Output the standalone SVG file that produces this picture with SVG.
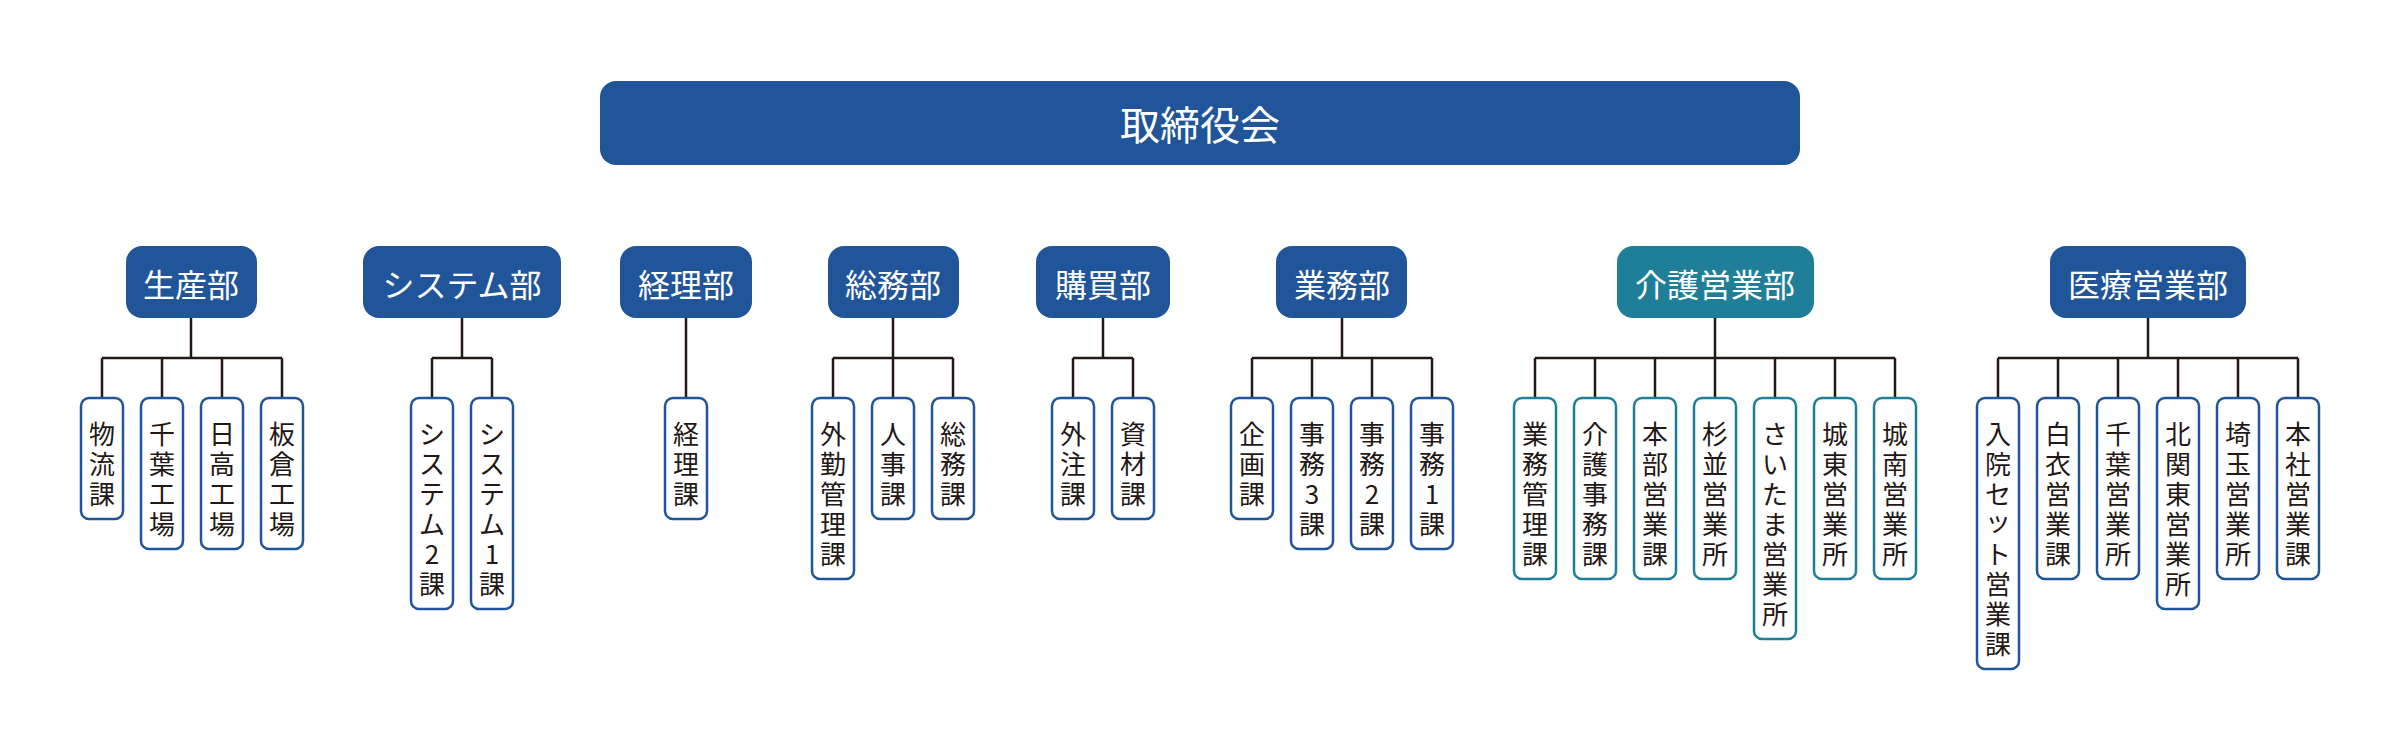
<svg xmlns="http://www.w3.org/2000/svg" width="2400" height="750" viewBox="0 0 2400 750">
<style>
  .top{fill:#215599}
  .dept{fill:#215599}
  .dept.teal{fill:#1f7f99}
  .tt{font-family:"Noto Sans CJK JP","Noto Sans",sans-serif;fill:#fff;text-anchor:middle;dominant-baseline:central}
  .sub rect{fill:#fff;stroke:#215599;stroke-width:2.5}
  .sub.teal rect{stroke:#1f7f99}
  .st{font-family:"Noto Sans CJK JP","Noto Sans",sans-serif;font-size:26px;fill:#231815;text-anchor:middle;dominant-baseline:central}
  .conn path{fill:none;stroke:#231815;stroke-width:2.5}
</style>
<rect width="2400" height="750" fill="#fff"/>

<g id="top-board">
  <rect class="top" x="600" y="81" width="1200" height="84" rx="16"/>
  <text class="tt" x="1200" y="123" font-size="40">取締役会</text>
</g>

<g id="connectors" class="conn">
  <path d="M191 318V358M102 358H282M102 358V398M162 358V398M222 358V398M282 358V398"/>
  <path d="M462 318V358M432 358H492M432 358V398M492 358V398"/>
  <path d="M686 318V398"/>
  <path d="M893 318V358M833 358H953M833 358V398M893 358V398M953 358V398"/>
  <path d="M1103 318V358M1073 358H1133M1073 358V398M1133 358V398"/>
  <path d="M1342 318V358M1252 358H1432M1252 358V398M1312 358V398M1372 358V398M1432 358V398"/>
  <path d="M1715 318V358M1535 358H1895M1535 358V398M1595 358V398M1655 358V398M1715 358V398M1775 358V398M1835 358V398M1895 358V398"/>
  <path d="M2148 318V358M1998 358H2298M1998 358V398M2058 358V398M2118 358V398M2178 358V398M2238 358V398M2298 358V398"/>
</g>

<!-- Departments -->
<g id="d-seisan"><rect class="dept" x="126" y="246" width="131" height="72" rx="16"/><text class="tt" x="191" y="283" font-size="32">生産部</text></g>
<g id="d-system"><rect class="dept" x="363" y="246" width="198" height="72" rx="16"/><text class="tt" x="462" y="283" font-size="32">システム部</text></g>
<g id="d-keiri"><rect class="dept" x="620" y="246" width="132" height="72" rx="16"/><text class="tt" x="686" y="283" font-size="32">経理部</text></g>
<g id="d-somu"><rect class="dept" x="828" y="246" width="131" height="72" rx="16"/><text class="tt" x="893" y="283" font-size="32">総務部</text></g>
<g id="d-kobai"><rect class="dept" x="1036" y="246" width="134" height="72" rx="16"/><text class="tt" x="1103" y="283" font-size="32">購買部</text></g>
<g id="d-gyomu"><rect class="dept" x="1276" y="246" width="131" height="72" rx="16"/><text class="tt" x="1342" y="283" font-size="32">業務部</text></g>
<g id="d-kaigo"><rect class="dept teal" x="1617" y="246" width="197" height="72" rx="16"/><text class="tt" x="1715" y="283" font-size="32">介護営業部</text></g>
<g id="d-iryo"><rect class="dept" x="2050" y="246" width="196" height="72" rx="16"/><text class="tt" x="2148" y="283" font-size="32">医療営業部</text></g>

<!-- Sections:生産部 -->
<g id="s-butsuryu" class="sub"><rect x="81" y="398" width="42" height="121" rx="8"/><text class="st" x="102" y="432"><tspan x="102" y="432">物</tspan><tspan x="102" y="462">流</tspan><tspan x="102" y="492">課</tspan></text></g>
<g id="s-chiba-kojo" class="sub"><rect x="141" y="398" width="42" height="151" rx="8"/><text class="st"><tspan x="162" y="432">千</tspan><tspan x="162" y="462">葉</tspan><tspan x="162" y="492">工</tspan><tspan x="162" y="522">場</tspan></text></g>
<g id="s-hidaka" class="sub"><rect x="201" y="398" width="42" height="151" rx="8"/><text class="st"><tspan x="222" y="432">日</tspan><tspan x="222" y="462">高</tspan><tspan x="222" y="492">工</tspan><tspan x="222" y="522">場</tspan></text></g>
<g id="s-itakura" class="sub"><rect x="261" y="398" width="42" height="151" rx="8"/><text class="st"><tspan x="282" y="432">板</tspan><tspan x="282" y="462">倉</tspan><tspan x="282" y="492">工</tspan><tspan x="282" y="522">場</tspan></text></g>

<!-- システム部 -->
<g id="s-sys2" class="sub"><rect x="411" y="398" width="42" height="211" rx="8"/><text class="st"><tspan x="432" y="432">シ</tspan><tspan x="432" y="462">ス</tspan><tspan x="432" y="492">テ</tspan><tspan x="432" y="522">ム</tspan><tspan x="432" y="552">2</tspan><tspan x="432" y="582">課</tspan></text></g>
<g id="s-sys1" class="sub"><rect x="471" y="398" width="42" height="211" rx="8"/><text class="st"><tspan x="492" y="432">シ</tspan><tspan x="492" y="462">ス</tspan><tspan x="492" y="492">テ</tspan><tspan x="492" y="522">ム</tspan><tspan x="492" y="552">1</tspan><tspan x="492" y="582">課</tspan></text></g>

<!-- 経理部 -->
<g id="s-keiri" class="sub"><rect x="665" y="398" width="42" height="121" rx="8"/><text class="st"><tspan x="686" y="432">経</tspan><tspan x="686" y="462">理</tspan><tspan x="686" y="492">課</tspan></text></g>

<!-- 総務部 -->
<g id="s-gaikin" class="sub"><rect x="812" y="398" width="42" height="181" rx="8"/><text class="st"><tspan x="833" y="432">外</tspan><tspan x="833" y="462">勤</tspan><tspan x="833" y="492">管</tspan><tspan x="833" y="522">理</tspan><tspan x="833" y="552">課</tspan></text></g>
<g id="s-jinji" class="sub"><rect x="872" y="398" width="42" height="121" rx="8"/><text class="st"><tspan x="893" y="432">人</tspan><tspan x="893" y="462">事</tspan><tspan x="893" y="492">課</tspan></text></g>
<g id="s-somu" class="sub"><rect x="932" y="398" width="42" height="121" rx="8"/><text class="st"><tspan x="953" y="432">総</tspan><tspan x="953" y="462">務</tspan><tspan x="953" y="492">課</tspan></text></g>

<!-- 購買部 -->
<g id="s-gaichu" class="sub"><rect x="1052" y="398" width="42" height="121" rx="8"/><text class="st"><tspan x="1073" y="432">外</tspan><tspan x="1073" y="462">注</tspan><tspan x="1073" y="492">課</tspan></text></g>
<g id="s-shizai" class="sub"><rect x="1112" y="398" width="42" height="121" rx="8"/><text class="st"><tspan x="1133" y="432">資</tspan><tspan x="1133" y="462">材</tspan><tspan x="1133" y="492">課</tspan></text></g>

<!-- 業務部 -->
<g id="s-kikaku" class="sub"><rect x="1231" y="398" width="42" height="121" rx="8"/><text class="st"><tspan x="1252" y="432">企</tspan><tspan x="1252" y="462">画</tspan><tspan x="1252" y="492">課</tspan></text></g>
<g id="s-jimu3" class="sub"><rect x="1291" y="398" width="42" height="151" rx="8"/><text class="st"><tspan x="1312" y="432">事</tspan><tspan x="1312" y="462">務</tspan><tspan x="1312" y="492">3</tspan><tspan x="1312" y="522">課</tspan></text></g>
<g id="s-jimu2" class="sub"><rect x="1351" y="398" width="42" height="151" rx="8"/><text class="st"><tspan x="1372" y="432">事</tspan><tspan x="1372" y="462">務</tspan><tspan x="1372" y="492">2</tspan><tspan x="1372" y="522">課</tspan></text></g>
<g id="s-jimu1" class="sub"><rect x="1411" y="398" width="42" height="151" rx="8"/><text class="st"><tspan x="1432" y="432">事</tspan><tspan x="1432" y="462">務</tspan><tspan x="1432" y="492">1</tspan><tspan x="1432" y="522">課</tspan></text></g>

<!-- 介護営業部 -->
<g id="s-gyomukanri" class="sub teal"><rect x="1514" y="398" width="42" height="181" rx="8"/><text class="st"><tspan x="1535" y="432">業</tspan><tspan x="1535" y="462">務</tspan><tspan x="1535" y="492">管</tspan><tspan x="1535" y="522">理</tspan><tspan x="1535" y="552">課</tspan></text></g>
<g id="s-kaigojimu" class="sub teal"><rect x="1574" y="398" width="42" height="181" rx="8"/><text class="st"><tspan x="1595" y="432">介</tspan><tspan x="1595" y="462">護</tspan><tspan x="1595" y="492">事</tspan><tspan x="1595" y="522">務</tspan><tspan x="1595" y="552">課</tspan></text></g>
<g id="s-honbu" class="sub teal"><rect x="1634" y="398" width="42" height="181" rx="8"/><text class="st"><tspan x="1655" y="432">本</tspan><tspan x="1655" y="462">部</tspan><tspan x="1655" y="492">営</tspan><tspan x="1655" y="522">業</tspan><tspan x="1655" y="552">課</tspan></text></g>
<g id="s-suginami" class="sub teal"><rect x="1694" y="398" width="42" height="181" rx="8"/><text class="st"><tspan x="1715" y="432">杉</tspan><tspan x="1715" y="462">並</tspan><tspan x="1715" y="492">営</tspan><tspan x="1715" y="522">業</tspan><tspan x="1715" y="552">所</tspan></text></g>
<g id="s-saitama" class="sub teal"><rect x="1754" y="398" width="42" height="241" rx="8"/><text class="st"><tspan x="1775" y="432">さ</tspan><tspan x="1775" y="462">い</tspan><tspan x="1775" y="492">た</tspan><tspan x="1775" y="522">ま</tspan><tspan x="1775" y="552">営</tspan><tspan x="1775" y="582">業</tspan><tspan x="1775" y="612">所</tspan></text></g>
<g id="s-joto" class="sub teal"><rect x="1814" y="398" width="42" height="181" rx="8"/><text class="st"><tspan x="1835" y="432">城</tspan><tspan x="1835" y="462">東</tspan><tspan x="1835" y="492">営</tspan><tspan x="1835" y="522">業</tspan><tspan x="1835" y="552">所</tspan></text></g>
<g id="s-jonan" class="sub teal"><rect x="1874" y="398" width="42" height="181" rx="8"/><text class="st"><tspan x="1895" y="432">城</tspan><tspan x="1895" y="462">南</tspan><tspan x="1895" y="492">営</tspan><tspan x="1895" y="522">業</tspan><tspan x="1895" y="552">所</tspan></text></g>

<!-- 医療営業部 -->
<g id="s-nyuin" class="sub"><rect x="1977" y="398" width="42" height="271" rx="8"/><text class="st"><tspan x="1998" y="432">入</tspan><tspan x="1998" y="462">院</tspan><tspan x="1998" y="492">セ</tspan><tspan x="1998" y="519">ッ</tspan><tspan x="1998" y="552">ト</tspan><tspan x="1998" y="582">営</tspan><tspan x="1998" y="612">業</tspan><tspan x="1998" y="642">課</tspan></text></g>
<g id="s-hakui" class="sub"><rect x="2037" y="398" width="42" height="181" rx="8"/><text class="st"><tspan x="2058" y="432">白</tspan><tspan x="2058" y="462">衣</tspan><tspan x="2058" y="492">営</tspan><tspan x="2058" y="522">業</tspan><tspan x="2058" y="552">課</tspan></text></g>
<g id="s-chiba-eigyo" class="sub"><rect x="2097" y="398" width="42" height="181" rx="8"/><text class="st"><tspan x="2118" y="432">千</tspan><tspan x="2118" y="462">葉</tspan><tspan x="2118" y="492">営</tspan><tspan x="2118" y="522">業</tspan><tspan x="2118" y="552">所</tspan></text></g>
<g id="s-kitakanto" class="sub"><rect x="2157" y="398" width="42" height="211" rx="8"/><text class="st"><tspan x="2178" y="432">北</tspan><tspan x="2178" y="462">関</tspan><tspan x="2178" y="492">東</tspan><tspan x="2178" y="522">営</tspan><tspan x="2178" y="552">業</tspan><tspan x="2178" y="582">所</tspan></text></g>
<g id="s-saitama-eigyo" class="sub"><rect x="2217" y="398" width="42" height="181" rx="8"/><text class="st"><tspan x="2238" y="432">埼</tspan><tspan x="2238" y="462">玉</tspan><tspan x="2238" y="492">営</tspan><tspan x="2238" y="522">業</tspan><tspan x="2238" y="552">所</tspan></text></g>
<g id="s-honsha" class="sub"><rect x="2277" y="398" width="42" height="181" rx="8"/><text class="st"><tspan x="2298" y="432">本</tspan><tspan x="2298" y="462">社</tspan><tspan x="2298" y="492">営</tspan><tspan x="2298" y="522">業</tspan><tspan x="2298" y="552">課</tspan></text></g>
</svg>
